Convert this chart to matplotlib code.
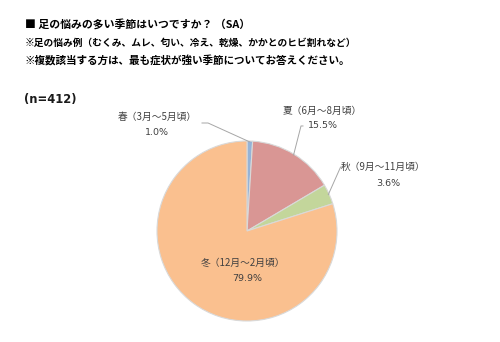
import numpy as np
import matplotlib
matplotlib.use("Agg")
import matplotlib.pyplot as plt

plt.rcParams['font.family'] = ['Noto Sans CJK JP', 'DejaVu Sans']

# Data (n=412)
seasons = ["春（3月～5月頃）", "夏（6月～8月頃）", "秋（9月～11月頃）", "冬（12月～2月頃）"]
shares = [1.0, 15.5, 3.6, 79.9]
colors = ["#95B3D7", "#D99694", "#C3D69B", "#FAC08F"]

title_lines = [
    "■ 足の悩みの多い季節はいつですか？ （SA）",
    "※足の悩み例（むくみ、ムレ、匂い、冷え、乾燥、かかとのヒビ割れなど）",
    "※複数該当する方は、最も症状が強い季節についてお答えください。",
]
sample_note = "(n=412)"

W, H = 500, 342
fig = plt.figure(figsize=(W / 100, H / 100), dpi=100)

# Title block
title_sizes = [7.8, 7.0, 7.6]
for i, (line, fs) in enumerate(zip(title_lines, title_sizes)):
    fig.text(25 / W, 1 - (24 + 18.5 * i) / H, line, fontsize=fs, fontweight='bold',
             va='center', ha='left', color='black')
fig.text(24 / W, 1 - 99 / H, sample_note, fontsize=8.3, fontweight='bold',
         family=['DejaVu Sans'], va='center', ha='left', color='#1a1a1a')

# Pie axes: centre (247, 231) px, radius 90 px
cx, cy, r = 247, 231, 90
ax = fig.add_axes([(cx - r) / W, (H - cy - r) / H, 2 * r / W, 2 * r / H])
wedges, _ = ax.pie(shares, colors=colors, startangle=90, counterclock=False,
                   radius=1.0, wedgeprops=dict(edgecolor='#d9d9d9', linewidth=0.8))
ax.set_xlim(-1, 1)
ax.set_ylim(-1, 1)
ax.set_aspect('equal')
ax.axis('off')

# label positions (data units, 1 unit = radius) and leader elbows
label_pos = [(-1.0, 1.267), (0.833, 1.333), (1.511, 0.711), (-0.044, -0.356)]
pct_pos = [(-1.0, 1.089), (0.844, 1.167), (1.567, 0.533), (0.0, -0.533)]
elbows = [[(-0.50, 1.20), (-0.433, 1.20)],
          [(0.622, 1.167), (0.60, 1.167)],
          [(1.067, 0.711), (1.04, 0.711)],
          None]

txt_color = '#404040'
for w, name, v, lp, pp, el in zip(wedges, seasons, shares, label_pos, pct_pos, elbows):
    ax.text(lp[0], lp[1], name, fontsize=7.0, ha='center', va='center',
            color=txt_color, clip_on=False)
    ax.text(pp[0], pp[1], f"{v:.1f}%", fontsize=6.8, ha='center', va='center',
            family=['DejaVu Sans'], color=txt_color, clip_on=False)
    if el is not None:
        mid = np.deg2rad((w.theta1 + w.theta2) / 2)
        tip = (np.cos(mid) * 0.99, np.sin(mid) * 0.99)
        xs = [el[0][0], el[1][0], tip[0]]
        ys = [el[0][1], el[1][1], tip[1]]
        ax.plot(xs, ys, color='#a6a6a6', lw=0.7, clip_on=False)

fig.savefig("out.png", dpi=100, facecolor='white')
